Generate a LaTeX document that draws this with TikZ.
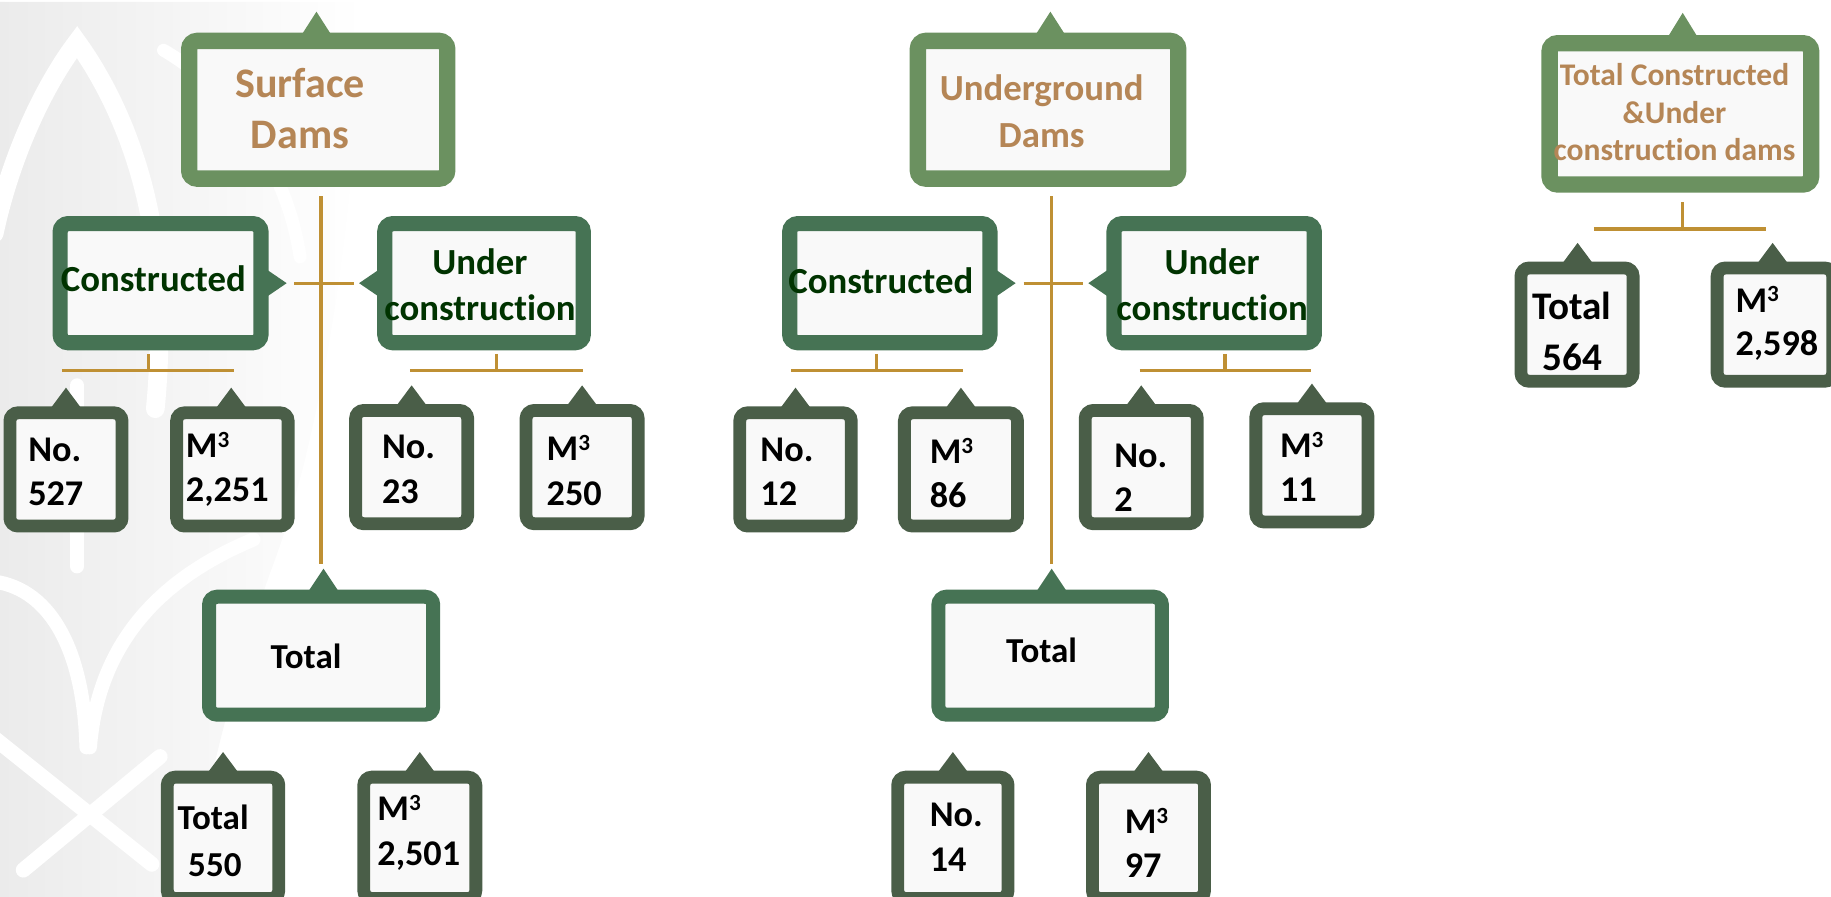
\documentclass[tikz,border=0pt]{standalone}
\usepackage{fontspec}
\setmainfont{Carlito}[RawFeature=-liga]
\usetikzlibrary{calc,fadings}
\definecolor{cTop}{RGB}{107,145,96}
\definecolor{cMid}{RGB}{70,115,84}
\definecolor{cSmall}{RGB}{74,94,72}
\definecolor{cIn}{RGB}{249,249,249}
\definecolor{cLine}{RGB}{191,144,52}
\definecolor{cTitle}{RGB}{181,134,86}
\definecolor{cCon}{RGB}{0,51,0}
\definecolor{cWm}{RGB}{235,235,235}
\tikzfading[name=wmfade, left color=transparent!0, middle color=transparent!10, right color=transparent!100]
\newcommand\mcube{M\raisebox{0.28em}{\scalebox{0.64}{3}}}
% tab on top: node, x offset, apex distance from border path, colour
\newcommand\tabup[4]{\fill[#4] ($(#1.north)+(#2-16,0)$) -- ($(#1.north)+(#2,-#3)$) -- ($(#1.north)+(#2+16,0)$) -- cycle;}
\newcommand\tabright[2]{\fill[#2] ($(#1.east)+(0,-15)$) -- ($(#1.east)+(22,0)$) -- ($(#1.east)+(0,15)$) -- cycle;}
\newcommand\tableft[2]{\fill[#2] ($(#1.west)+(0,-15)$) -- ($(#1.west)+(-22,0)$) -- ($(#1.west)+(0,15)$) -- cycle;}
\tikzset{
  box/.style={rectangle, fill=cIn, rounded corners=7pt, inner sep=0pt, outer sep=0pt},
  topbox/.style={box, draw=cTop, line width=14pt},
  midbox/.style={box, draw=cMid, line width=13pt},
  smallbox/.style={box, draw=cSmall, line width=11pt},
  conn/.style={draw=cLine, line width=2.8pt},
  wmband/.style={draw=white, line cap=round},
  ttl/.style={text=cTitle, font=\bfseries\fontsize{36}{43}\selectfont, align=center, inner sep=0pt},
  con/.style={text=cCon, font=\bfseries\fontsize{31.5}{39}\selectfont, align=center, inner sep=0pt},
  num/.style={text=black, font=\bfseries\fontsize{31}{38}\selectfont, align=left, inner sep=0pt, anchor=west},
}
\begin{document}
\begin{tikzpicture}[x=1pt,y=-1pt]
\useasboundingbox (0,0) rectangle (1568,768);
% faint watermark (grey ground with white leaf cut-outs)
\fill[cWm, path fading=wmfade] (0,0) -- (310,0) .. controls (305,200) and (272,380) .. (235,480)
  .. controls (205,560) and (175,680) .. (160,768) -- (0,768) -- cycle;
\draw[wmband, line width=16pt] (-5,200) .. controls (10,130) and (40,70) .. (66,36)
  .. controls (105,90) and (135,170) .. (136,260) .. controls (137,300) and (135,330) .. (133,350);
\draw[wmband, line width=11pt] (140,43) .. controls (195,75) and (245,140) .. (257,220);
\draw[wmband, line width=12pt] (66,330) -- (66,485);
\draw[wmband, line width=12pt] (-5,498) .. controls (45,505) and (72,560) .. (74,640);
\draw[wmband, line width=12pt] (217,462) .. controls (150,490) and (85,540) .. (77,640);
\draw[wmband, line width=13pt] (-5,632) -- (130,740);
\draw[wmband, line width=13pt] (137,648) -- (20,745);

% ===== Surface dams =====
\node[topbox, minimum width=221pt, minimum height=118pt] (sd) at (272.5,94) {};
\tabup{sd}{-1.5}{25}{cTop}
\node[ttl] (sdt) at (257,93) {Surface\\Dams};

\node[midbox, minimum width=172pt, minimum height=102pt] (sc) at (137.5,242.5) {};
\tabright{sc}{cMid}
\node[con, anchor=west] (sct) at (52,239) {Constructed};
\node[midbox, minimum width=170pt, minimum height=102pt] (su) at (414.5,242.5) {};
\tableft{su}{cMid}
\node[con] (sut) at (411,244) {Under\\construction};

\coordinate (sv1) at (275,168); \coordinate (sv2) at (275,483);
\coordinate (sh1) at (252,243); \coordinate (sh2) at (303,243);
\draw[conn] (sv1) -- (sv2);
\draw[conn] (sh1) -- (sh2);
\coordinate (sca) at (127,303); \coordinate (scb) at (127,317);
\coordinate (scl) at (53,317); \coordinate (scr) at (200,317);
\draw[conn] (sca) -- (scb); \draw[conn] (scl) -- (scr);
\coordinate (sua) at (425,303); \coordinate (sub) at (425,317);
\coordinate (sul) at (351,317); \coordinate (sur) at (499,317);
\draw[conn] (sua) -- (sub); \draw[conn] (sul) -- (sur);

\node[smallbox, minimum width=96pt, minimum height=97pt] (s1) at (56.5,402) {};
\tabup{s1}{0}{21.5}{cSmall}
\node[num] (s1t) at (24,404) {No.\\527};
\node[smallbox, minimum width=95.5pt, minimum height=97pt] (s2) at (199,402) {};
\tabup{s2}{-1}{21.5}{cSmall}
\node[num] (s2t) at (159,402) {\mcube\\2,251};
\node[smallbox, minimum width=96pt, minimum height=97pt] (s3) at (352.5,400) {};
\tabup{s3}{0}{21.5}{cSmall}
\node[num] (s3t) at (327,402) {No.\\23};
\node[smallbox, minimum width=96pt, minimum height=97pt] (s4) at (498.5,400) {};
\tabup{s4}{0}{21.5}{cSmall}
\node[num] (s4t) at (468,403) {\mcube\\250};

\node[midbox, line width=12pt, minimum width=192pt, minimum height=101pt] (st) at (275,561.5) {};
\tabup{st}{2}{24}{cMid}
\node[num, font=\bfseries\fontsize{30}{36}\selectfont, anchor=center] (stt) at (262,562) {Total};

\node[smallbox, minimum width=95.5pt, minimum height=104pt] (sb1) at (191,717.5) {};
\tabup{sb1}{0}{21.5}{cSmall}
\node[num, font=\bfseries\fontsize{30}{40}\selectfont] (sb1t) at (152,720) {Total\\\hspace*{9pt}550};
\node[smallbox, minimum width=96pt, minimum height=104pt] (sb2) at (359.5,717.5) {};
\tabup{sb2}{0}{21.5}{cSmall}
\node[num] (sb2t) at (323,713) {\mcube\\2,501};

% ===== Underground dams =====
\node[topbox, minimum width=223pt, minimum height=118pt] (ud) at (897.5,94) {};
\tabup{ud}{2}{25}{cTop}
\node[ttl, font=\bfseries\fontsize{31.5}{40}\selectfont] (udt) at (892,95) {Underground\\Dams};

\node[midbox, minimum width=171.5pt, minimum height=102pt] (uc) at (762,242.5) {};
\tabright{uc}{cMid}
\node[con, anchor=west] (uct) at (675,240) {Constructed};
\node[midbox, minimum width=171.5pt, minimum height=102pt] (uu) at (1039.75,242.5) {};
\tableft{uu}{cMid}
\node[con] (uut) at (1038,244) {Under\\construction};

\coordinate (uv1) at (900.6,168); \coordinate (uv2) at (900.6,483);
\coordinate (uh1) at (876.5,243); \coordinate (uh2) at (927.6,243);
\draw[conn] (uv1) -- (uv2);
\draw[conn] (uh1) -- (uh2);
\coordinate (uca) at (750.8,303); \coordinate (ucb) at (750.8,317);
\coordinate (ucl) at (677.7,317); \coordinate (ucr) at (824.3,317);
\draw[conn] (uca) -- (ucb); \draw[conn] (ucl) -- (ucr);
\coordinate (uua) at (1049,303); \coordinate (uub) at (1049,317);
\coordinate (uul) at (976,317); \coordinate (uur) at (1122.5,317);
\draw[conn] (uua) -- (uub); \draw[conn] (uul) -- (uur);

\node[smallbox, minimum width=95.5pt, minimum height=97pt] (u1) at (681.25,402) {};
\tabup{u1}{0}{21.5}{cSmall}
\node[num] (u1t) at (651,404) {No.\\12};
\node[smallbox, minimum width=96.8pt, minimum height=97pt] (u2) at (822.9,402) {};
\tabup{u2}{0}{21.5}{cSmall}
\node[num] (u2t) at (796,405) {\mcube\\86};
\node[smallbox, minimum width=96pt, minimum height=97pt] (u3) at (977.3,400) {};
\tabup{u3}{0}{21.5}{cSmall}
\node[num] (u3t) at (954,409) {No.\\2};
\node[smallbox, minimum width=96pt, minimum height=97pt] (u4) at (1123.5,398.5) {};
\tabup{u4}{0}{21.5}{cSmall}
\node[num] (u4t) at (1096,400) {\mcube\\11};

\node[midbox, line width=12pt, minimum width=191.4pt, minimum height=101pt] (ut) at (899.3,561.5) {};
\tabup{ut}{1.3}{24}{cMid}
\node[num, font=\bfseries\fontsize{30}{36}\selectfont, anchor=center] (utt) at (892,557) {Total};

\node[smallbox, minimum width=94.5pt, minimum height=104pt] (ub1) at (816,717.5) {};
\tabup{ub1}{0}{21.5}{cSmall}
\node[num] (ub1t) at (796,717) {No.\\14};
\node[smallbox, minimum width=96pt, minimum height=104pt] (ub2) at (983.5,717.5) {};
\tabup{ub2}{0}{21.5}{cSmall}
\node[num] (ub2t) at (963,722) {\mcube\\97};

% ===== Total constructed & under construction =====
\node[topbox, minimum width=224pt, minimum height=121pt] (tc) at (1439,97.5) {};
\tabup{tc}{2}{26}{cTop}
\node[ttl, font=\bfseries\fontsize{27}{32}\selectfont] (tct) at (1434,96) {Total Constructed\\\&Under\\construction dams};
\coordinate (tca) at (1441,173); \coordinate (tcb) at (1441,196);
\coordinate (tcl) at (1365,196); \coordinate (tcr) at (1512,196);
\draw[conn] (tca) -- (tcb); \draw[conn] (tcl) -- (tcr);

\node[smallbox, minimum width=96pt, minimum height=97pt] (t1) at (1350.5,278) {};
\tabup{t1}{0.5}{21.5}{cSmall}
\node[num, font=\bfseries\fontsize{33.5}{44}\selectfont] (t1t) at (1312,284) {Total\\\hspace*{9pt}564};
\node[smallbox, minimum width=99pt, minimum height=97pt] (t2) at (1520,278) {};
\tabup{t2}{-2}{21.5}{cSmall}
\node[num, font=\bfseries\fontsize{31}{37}\selectfont] (t2t) at (1486,277) {\mcube\\2,598};
\end{tikzpicture}
\end{document}
